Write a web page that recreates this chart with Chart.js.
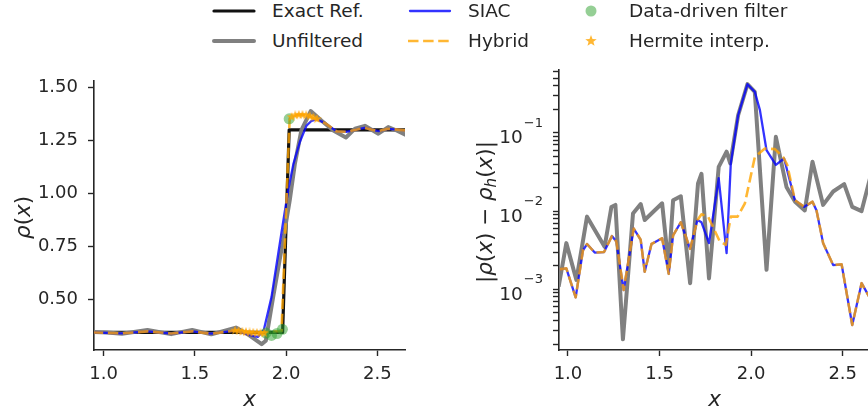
<!DOCTYPE html>
<html lang="pt-BR">
<head>
<meta charset="utf-8">
<title>Filtros: densidade e erro</title>
<script src="https://cdn.jsdelivr.net/npm/chart.js@4.4.1/dist/chart.umd.min.js"></script>
<style>
    html, body { margin: 0; padding: 0; background: #fff; }
    #figura { position: relative; width: 868px; height: 415px; overflow: hidden; }
    #figura > canvas { position: absolute; top: 60px; }
    #graficoDensidade { left: 0; }
    #graficoErro { left: 420px; }
    .itemLegenda {
        position: absolute;
        height: 24px;
        display: flex;
        align-items: center;
        font: 18.5px "DejaVu Sans", sans-serif;
        color: #262626;
        white-space: nowrap;
    }
    .itemLegenda canvas { margin-right: 16px; }
</style>
</head>
<body>
<div id="figura">
    <div id="legenda"></div>
    <canvas id="graficoDensidade" width="420" height="355"></canvas>
    <canvas id="graficoErro" width="452" height="355"></canvas>
</div>
<script>
/* ==========================================================================
   Densidade rho(x) perto do choque e erro |rho - rho_h| por filtro
   ========================================================================== */

// ---- densidade (painel esquerdo) ----
const exatoX = [0.94, 1.981, 2.017, 2.66];
const exatoY = [0.343, 0.343, 1.301, 1.301];

const semFiltroX = [0.94, 1.02, 1.10, 1.24, 1.37, 1.485, 1.59, 1.725, 1.787, 1.866, 1.889, 1.929, 1.98, 2.02, 2.048, 2.084, 2.135, 2.195, 2.259, 2.328, 2.378, 2.432, 2.506, 2.56, 2.606, 2.66];
const semFiltroY = [0.345, 0.343, 0.337, 0.355, 0.335, 0.355, 0.334, 0.366, 0.336, 0.288, 0.304, 0.51, 0.76, 0.967, 1.139, 1.30, 1.39, 1.344, 1.298, 1.265, 1.307, 1.32, 1.283, 1.314, 1.298, 1.276];

const siacX = [0.94, 1.10, 1.24, 1.37, 1.485, 1.59, 1.725, 1.80, 1.845, 1.878, 1.92, 1.957, 1.984, 2.012, 2.04, 2.076, 2.112, 2.14, 2.167, 2.21, 2.277, 2.33, 2.43, 2.506, 2.56, 2.66];
const siacY = [0.343, 0.339, 0.348, 0.338, 0.348, 0.337, 0.352, 0.33, 0.322, 0.355, 0.51, 0.715, 0.866, 1.018, 1.139, 1.245, 1.321, 1.344, 1.35, 1.335, 1.294, 1.292, 1.31, 1.295, 1.306, 1.298];

const hibridoX = [0.94, 1.10, 1.24, 1.37, 1.485, 1.59, 1.725, 1.78, 1.85, 1.90, 1.975, 2.017, 2.02, 2.06, 2.11, 2.16, 2.21, 2.277, 2.33, 2.43, 2.506, 2.56, 2.66];
const hibridoY = [0.343, 0.339, 0.348, 0.338, 0.348, 0.337, 0.352, 0.346, 0.342, 0.346, 0.35, 1.30, 1.355, 1.372, 1.372, 1.352, 1.335, 1.294, 1.292, 1.31, 1.295, 1.306, 1.298];

const filtroDadosX = [1.89, 1.92, 1.95, 1.98, 2.017];
const filtroDadosY = [0.34, 0.329, 0.338, 0.358, 1.353];

const hermiteX = [1.72, 1.74, 1.76, 1.78, 1.80, 1.82, 1.84, 1.86, 1.88, 2.03, 2.05, 2.07, 2.09, 2.11, 2.13, 2.15, 2.17];
const hermiteY = [0.352, 0.350, 0.347, 0.345, 0.343, 0.342, 0.341, 0.340, 0.340, 1.362, 1.370, 1.372, 1.372, 1.370, 1.366, 1.360, 1.352];

// ---- erro pontual (painel direito, escala log) ----
const erroSemFiltroX = [0.949, 0.991, 1.046, 1.104, 1.20, 1.237, 1.259, 1.30, 1.355, 1.397, 1.419, 1.514, 1.55, 1.574, 1.616, 1.667, 1.71, 1.729, 1.77, 1.823, 1.866, 1.886, 1.929, 1.98, 2.02, 2.084, 2.135, 2.193, 2.24, 2.293, 2.335, 2.393, 2.448, 2.508, 2.552, 2.603, 2.652];
const erroSemFiltro = [1.08e-3, 3.9e-3, 1.32e-3, 8.5e-3, 3.5e-3, 1.13e-2, 1.2e-2, 2.3e-4, 9.3e-3, 1.23e-2, 7.7e-3, 1.26e-2, 1.95e-3, 1.38e-2, 1.55e-2, 1.2e-3, 2.26e-2, 3.0e-2, 1.38e-3, 3.68e-2, 5.75e-2, 4.07e-2, 0.168, 0.419, 0.334, 1.78e-3, 8.9e-2, 2.04e-2, 1.32e-2, 1.02e-2, 4.27e-2, 1.2e-2, 1.78e-2, 2.21e-2, 1.135e-2, 1.0e-2, 2.8e-2];

const erroSiacX = [0.955, 0.991, 1.042, 1.082, 1.104, 1.146, 1.197, 1.24, 1.264, 1.304, 1.359, 1.397, 1.419, 1.456, 1.514, 1.55, 1.574, 1.616, 1.667, 1.707, 1.729, 1.77, 1.823, 1.866, 1.889, 1.929, 1.98, 2.02, 2.048, 2.084, 2.135, 2.18, 2.239, 2.29, 2.335, 2.357, 2.393, 2.448, 2.494, 2.552, 2.603, 2.652];
const erroSiac = [1.8e-3, 1.86e-3, 7.9e-4, 3.16e-3, 3.8e-3, 2.95e-3, 3.0e-3, 4.8e-3, 4.1e-3, 9.8e-4, 6.0e-3, 4.3e-3, 1.68e-3, 3.8e-3, 4.5e-3, 1.58e-3, 4.9e-3, 7.2e-3, 3.3e-3, 7.7e-3, 7.2e-3, 3.9e-3, 2.63e-2, 2.9e-3, 4.07e-2, 0.168, 0.419, 0.334, 0.195, 6.0e-2, 3.9e-2, 4.7e-2, 1.38e-2, 1.135e-2, 1.32e-2, 1.02e-2, 3.9e-3, 2.04e-3, 2.09e-3, 3.5e-4, 1.2e-3, 7.5e-4];

const erroHibridoX = [0.955, 0.991, 1.042, 1.082, 1.104, 1.146, 1.197, 1.24, 1.264, 1.304, 1.359, 1.397, 1.419, 1.456, 1.514, 1.55, 1.574, 1.616, 1.667, 1.707, 1.729, 1.765, 1.829, 1.862, 1.889, 1.926, 1.966, 2.02, 2.075, 2.13, 2.175, 2.197, 2.239, 2.29, 2.335, 2.357, 2.393, 2.448, 2.494, 2.552, 2.603, 2.652];
const erroHibrido = [1.8e-3, 1.86e-3, 7.9e-4, 3.16e-3, 3.8e-3, 2.95e-3, 3.0e-3, 4.8e-3, 4.1e-3, 9.8e-4, 6.0e-3, 4.3e-3, 1.68e-3, 3.8e-3, 4.5e-3, 1.58e-3, 4.9e-3, 7.2e-3, 3.3e-3, 7.7e-3, 9.1e-3, 8.5e-3, 4.1e-3, 3.7e-3, 8.5e-3, 8.5e-3, 1.26e-2, 4.9e-2, 6.3e-2, 6.2e-2, 4.9e-2, 3.9e-2, 1.38e-2, 1.135e-2, 1.32e-2, 1.02e-2, 3.9e-3, 2.04e-3, 2.09e-3, 3.5e-4, 1.2e-3, 7.5e-4];

// ---- eixos ----
const ticksX = [1.0, 1.5, 2.0, 2.5];
const ticksDensidade = [0.5, 0.75, 1.0, 1.25, 1.5];
const ticksLogMaiores = [1e-3, 1e-2, 1e-1];
const expoentesLog = ["\u22123", "\u22122", "\u22121"];
const decadasLog = [-4, -3, -2, -1];

const rotulos = ["Exact Ref.", "Unfiltered", "SIAC", "Hybrid", "Data-driven filter", "Hermite interp."];

// títulos dos eixos y em pedaços (letras em itálico, h subscrito)
const tituloDensidade = [
    { t: "\u03c1", it: true }, { t: "(" }, { t: "x", it: true }, { t: ")" }
];
const tituloErro = [
    { t: "|" }, { t: "\u03c1", it: true }, { t: "(" }, { t: "x", it: true }, { t: ")" },
    { t: " \u2212 " },
    { t: "\u03c1", it: true }, { t: "h", it: true, sub: true }, { t: "(" }, { t: "x", it: true }, { t: ")" }, { t: "|" }
];

const corEixo = "#262626";
const familia = '"DejaVu Sans", sans-serif';
const fonteTick = { family: familia, size: 18 };
const fonteTitulo = { family: familia, size: 21.5, style: "italic" };

const estilos = {
    exato: { cor: "#111111", largura: 3.2 },
    semFiltro: { cor: "#808080", largura: 4 },
    siac: { cor: "rgba(0,0,255,0.8)", largura: 2.3 },
    hibrido: { cor: "rgba(255,165,0,0.8)", largura: 2.6, traco: [10.5, 4.6] },
    filtroDados: { cor: "rgba(44,160,44,0.5)", raio: 5.5 },
    hermite: { cor: "rgba(255,165,0,0.8)" }
};

function pares(xs, ys) {
    return xs.map((x, i) => ({ x: x, y: ys[i] }));
}

function criarEstrela(tamanho, cor) {
    const c = document.createElement("canvas");
    c.width = tamanho;
    c.height = tamanho;
    const ctx = c.getContext("2d");
    const r = tamanho / 2;
    const ri = r * 0.42;

    ctx.beginPath();
    for (let i = 0; i < 10; i++) {
        const ang = -Math.PI / 2 + i * Math.PI / 5;
        const rr = i % 2 ? ri : r;
        ctx.lineTo(r + rr * Math.cos(ang), r + rr * Math.sin(ang));
    }
    ctx.closePath();
    ctx.fillStyle = cor;
    ctx.fill();

    return c;
}

const estrelaGrafico = criarEstrela(10, estilos.hermite.cor);
const estrelaLegenda = criarEstrela(12, estilos.hermite.cor);

function linha(rotulo, dados, estilo, ordem) {
    return {
        label: rotulo,
        data: dados,
        borderColor: estilo.cor,
        borderWidth: estilo.largura,
        borderDash: estilo.traco || [],
        borderJoinStyle: "round",
        borderCapStyle: "butt",
        pointRadius: 0,
        fill: false,
        tension: 0,
        order: ordem
    };
}

function eixoX(min, max) {
    return {
        type: "linear",
        min: min,
        max: max,
        border: { display: true, color: corEixo, width: 1.6 },
        grid: { drawOnChartArea: false, drawTicks: true, tickLength: 6, tickColor: corEixo, tickWidth: 1.4 },
        ticks: {
            color: corEixo,
            font: fonteTick,
            padding: 8,
            autoSkip: false,
            maxRotation: 0,
            callback: v => Number(v).toFixed(1)
        },
        afterBuildTicks: s => { s.ticks = ticksX.map(v => ({ value: v })); },
        afterFit: s => { s.height = 65; },
        title: { display: true, text: "x", color: corEixo, font: fonteTitulo, padding: { top: 0, bottom: 2 } }
    };
}

// desenha o título do eixo y girado, montando os pedaços em sequência;
// o tamanho é ajustado para o comprimento total pedido
function desenharTituloY(ctx, pedacos, cx, cy, tamanhoBase, comprimento) {
    const fonte = (p, tam) => {
        const t = p.sub ? tam * 0.7 : tam;
        return (p.it ? "italic " : "") + t.toFixed(2) + "px " + familia;
    };
    const medir = (tam) => {
        let total = 0;
        pedacos.forEach(p => {
            ctx.font = fonte(p, tam);
            p.w = ctx.measureText(p.t).width;
            total += p.w;
        });
        return total;
    };

    let tamanho = tamanhoBase;
    let total = medir(tamanho);
    if (total > comprimento) {
        tamanho = tamanhoBase * comprimento / total;
        total = medir(tamanho);
    }

    ctx.save();
    ctx.translate(cx + tamanho * 0.31, cy);
    ctx.rotate(-Math.PI / 2);
    ctx.fillStyle = corEixo;
    ctx.textAlign = "left";
    ctx.textBaseline = "alphabetic";

    let pos = -total / 2;
    pedacos.forEach(p => {
        ctx.font = fonte(p, tamanho);
        ctx.fillText(p.t, pos, p.sub ? tamanho * 0.2 : 0);
        pos += p.w;
    });

    ctx.restore();
}

function pluginTituloY(pedacos, centroX, comprimento) {
    return {
        id: "tituloY",
        afterDraw(chart) {
            const area = chart.chartArea;
            desenharTituloY(chart.ctx, pedacos, centroX, (area.top + area.bottom) / 2 + 2, 21.5, comprimento);
        }
    };
}

const opcoesBase = {
    responsive: false,
    animation: false,
    events: [],
    plugins: { legend: { display: false }, tooltip: { enabled: false } }
};

// ---- painel esquerdo ----
new Chart(document.getElementById("graficoDensidade"), {
    type: "line",
    data: {
        datasets: [
            linha(rotulos[0], pares(exatoX, exatoY), estilos.exato, 6),
            linha(rotulos[1], pares(semFiltroX, semFiltroY), estilos.semFiltro, 5),
            linha(rotulos[2], pares(siacX, siacY), estilos.siac, 4),
            linha(rotulos[3], pares(hibridoX, hibridoY), estilos.hibrido, 3),
            {
                label: rotulos[4],
                data: pares(filtroDadosX, filtroDadosY),
                showLine: false,
                pointStyle: "circle",
                pointRadius: estilos.filtroDados.raio,
                pointBackgroundColor: estilos.filtroDados.cor,
                pointBorderWidth: 0,
                order: 2
            },
            {
                label: rotulos[5],
                data: pares(hermiteX, hermiteY),
                showLine: false,
                pointStyle: estrelaGrafico,
                order: 1
            }
        ]
    },
    options: {
        ...opcoesBase,
        layout: { padding: { top: 10, right: 15, left: 0, bottom: 0 } },
        scales: {
            x: eixoX(0.947, 2.652),
            y: {
                type: "linear",
                min: 0.26,
                max: 1.533,
                border: { display: true, color: corEixo, width: 1.6 },
                grid: { drawOnChartArea: false, drawTicks: true, tickLength: 6, tickColor: corEixo, tickWidth: 1.4 },
                ticks: {
                    color: corEixo,
                    font: fonteTick,
                    padding: 10,
                    autoSkip: false,
                    callback: v => Number(v).toFixed(2)
                },
                afterBuildTicks: s => { s.ticks = ticksDensidade.map(v => ({ value: v })); },
                afterFit: s => { s.width = 94; }
            }
        }
    },
    plugins: [pluginTituloY(tituloDensidade, 23, 44)]
});

// rótulos 10^n com expoente elevado
const rotulosPotencia = {
    id: "rotulosPotencia",
    afterDraw(chart) {
        const escala = chart.scales.y;
        const ctx = chart.ctx;
        const direita = escala.right - 6 - 10;

        ctx.save();
        ctx.fillStyle = corEixo;
        ctx.textAlign = "right";
        ctx.textBaseline = "alphabetic";

        ticksLogMaiores.forEach((v, i) => {
            const y = escala.getPixelForValue(v);
            ctx.font = "13px " + familia;
            const larguraExp = ctx.measureText(expoentesLog[i]).width;
            ctx.fillText(expoentesLog[i], direita, y - 6);
            ctx.font = "18.5px " + familia;
            ctx.fillText("10", direita - larguraExp - 1, y + 10.5);
        });

        ctx.restore();
    }
};

// ---- painel direito ----
new Chart(document.getElementById("graficoErro"), {
    type: "line",
    data: {
        datasets: [
            linha(rotulos[1], pares(erroSemFiltroX, erroSemFiltro), estilos.semFiltro, 5),
            linha(rotulos[2], pares(erroSiacX, erroSiac), estilos.siac, 4),
            linha(rotulos[3], pares(erroHibridoX, erroHibrido), estilos.hibrido, 3)
        ]
    },
    options: {
        ...opcoesBase,
        layout: { padding: { top: 10, right: 2, left: 0, bottom: 0 } },
        scales: {
            x: eixoX(0.951, 2.649),
            y: {
                type: "logarithmic",
                min: 1.68e-4,
                max: 0.632,
                border: { display: true, color: corEixo, width: 1.6 },
                grid: { drawOnChartArea: false, drawTicks: true, tickLength: 6, tickColor: corEixo, tickWidth: 1.4 },
                ticks: { autoSkip: false, callback: () => "" },
                afterBuildTicks: s => {
                    const lista = [];
                    decadasLog.forEach(e => {
                        for (let m = 1; m <= 9; m++) {
                            const v = m * Math.pow(10, e);
                            if (v >= s.min && v <= s.max) lista.push({ value: v });
                        }
                    });
                    s.ticks = lista;
                },
                afterFit: s => { s.width = 139; }
            }
        }
    },
    plugins: [rotulosPotencia, pluginTituloY(tituloErro, 65, 142)]
});

// ---- legenda em 3 colunas ----
const colunasLegenda = [212, 408, 569];
const linhasLegenda = [10.5, 40.5];
const tiposLegenda = [
    { estilo: estilos.exato, tipo: "linha" },
    { estilo: estilos.semFiltro, tipo: "linha" },
    { estilo: estilos.siac, tipo: "linha" },
    { estilo: estilos.hibrido, tipo: "linha" },
    { estilo: estilos.filtroDados, tipo: "circulo" },
    { estilo: estilos.hermite, tipo: "estrela" }
];

function montarLegenda() {
    const alvo = document.getElementById("legenda");

    rotulos.forEach((texto, i) => {
        const coluna = Math.floor(i / 2);
        const linhaIdx = i % 2;
        const item = document.createElement("div");
        item.className = "itemLegenda";
        item.style.left = colunasLegenda[coluna] + "px";
        item.style.top = (linhasLegenda[linhaIdx] - 12) + "px";

        const amostra = document.createElement("canvas");
        amostra.width = 44;
        amostra.height = 24;
        desenharAmostra(amostra.getContext("2d"), tiposLegenda[i]);

        const rotulo = document.createElement("span");
        rotulo.textContent = texto;

        item.appendChild(amostra);
        item.appendChild(rotulo);
        alvo.appendChild(item);
    });
}

function desenharAmostra(ctx, def) {
    const e = def.estilo;

    if (def.tipo === "linha") {
        ctx.strokeStyle = e.cor;
        ctx.lineWidth = e.largura;
        ctx.lineCap = e.traco ? "butt" : "round";
        ctx.setLineDash(e.traco || []);
        ctx.beginPath();
        ctx.moveTo(e.traco ? 0 : 2, 12);
        ctx.lineTo(e.traco ? 44 : 42, 12);
        ctx.stroke();
    } else if (def.tipo === "circulo") {
        ctx.fillStyle = e.cor;
        ctx.beginPath();
        ctx.arc(22, 12, e.raio, 0, Math.PI * 2);
        ctx.fill();
    } else {
        ctx.drawImage(estrelaLegenda, 22 - estrelaLegenda.width / 2, 12 - estrelaLegenda.height / 2);
    }
}

montarLegenda();
</script>
</body>
</html>
